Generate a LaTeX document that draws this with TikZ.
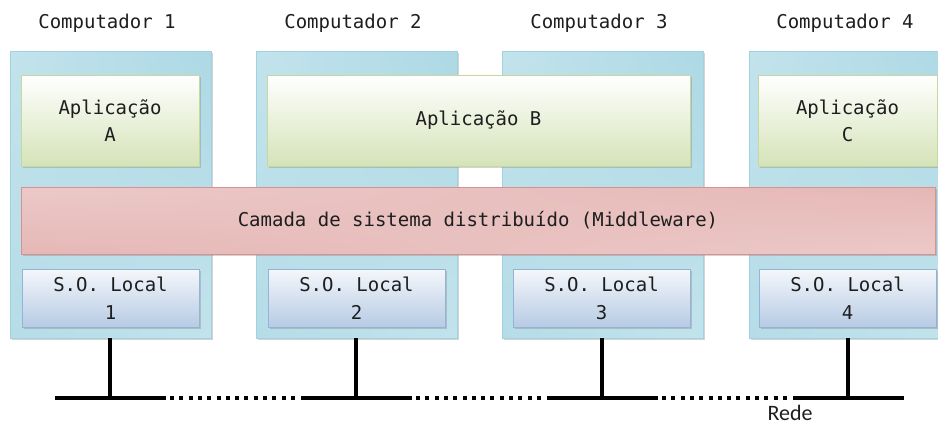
\documentclass[tikz,border=0pt]{standalone}
\usepackage{fontspec}
\newfontfamily\monofnt{DejaVu Sans Mono}
\newfontfamily\redefnt{Carlito}
\usetikzlibrary{shadows}
\definecolor{compB}{HTML}{A0D2E0}
\definecolor{appD}{HTML}{D5E3B8}
\definecolor{appB}{HTML}{C5D89E}
\definecolor{mwB}{HTML}{D8918F}
\definecolor{soL}{HTML}{F4F7FB}
\definecolor{soD}{HTML}{B7CBE4}
\definecolor{soB}{HTML}{95B3D7}
\definecolor{txt}{HTML}{1E1E1E}
% light blue: top-left light, top-right dark, bottom-left medium, bottom-right light
\pgfdeclarefunctionalshading{compshade}{\pgfpointorigin}{\pgfpoint{100bp}{100bp}}{}{
  100 div exch 100 div
  2 copy mul
  3 1 roll
  1 exch sub exch 1 exch sub mul
  0.8 mul add
  1.0 exp
  dup -0.307 mul 0.866 add exch
  dup -0.150 mul 0.941 add exch
  -0.105 mul 0.961 add
}
% pink: left light top / dark bottom, right dark top / light bottom
\pgfdeclarefunctionalshading{mwshade}{\pgfpointorigin}{\pgfpoint{100bp}{100bp}}{}{
  100 div 0.5 exch sub
  exch 100 div 2 mul 1 exch sub
  mul 0.5 add
  1.3 exp
  dup -0.094 mul 0.949 add exch
  dup -0.267 mul 0.863 add exch
  -0.271 mul 0.859 add
}
\begin{document}
\begin{tikzpicture}[x=1pt,y=-1pt,
  shad/.style={drop shadow={shadow xshift=1.6pt, shadow yshift=-1.8pt, opacity=.35, fill=gray}},
  box/.style={inner sep=0pt, outer sep=0pt, anchor=north west, line width=0.8pt, shad,
    font=\monofnt\fontsize{19}{27}\selectfont, text=txt, align=center},
  comp/.style={box, draw=compB, shade, shading=compshade,
    minimum width=201pt, minimum height=287pt},
  app/.style={box, draw=appB, top color=white, bottom color=appD, minimum height=91pt},
  mw/.style={box, draw=mwB, shade, shading=mwshade,
    minimum width=914pt, minimum height=67pt},
  so/.style={box, draw=soB, top color=soL, bottom color=soD, minimum width=177pt, minimum height=58pt,
    font=\monofnt\fontsize{19}{28}\selectfont},
  title/.style={font=\monofnt\fontsize{19}{23}\selectfont, text=txt, inner sep=0pt},
  net/.style={line width=3.8pt, black},
  dotl/.style={line width=3.8pt, black, dash pattern=on 4pt off 5.3pt}
]
\clip (0,0) rectangle (938,426);

% computers
\node[comp] (c1) at (10,51) {};
\node[comp] (c2) at (256,51) {};
\node[comp] (c3) at (502,51) {};
\node[comp] (c4) at (749,51) {};

% titles
\node[title] (t1) at (107,23) {Computador 1};
\node[title] (t2) at (353,23) {Computador 2};
\node[title] (t3) at (599,23) {Computador 3};
\node[title] (t4) at (845,23) {Computador 4};

% applications
\node[app, minimum width=178pt] (appA) at (21,75) {Aplicação\\A};
\node[app, minimum width=423pt] (appB) at (267,75) {Aplicação B};
\node[app, minimum width=179pt] (appC) at (758,75) {Aplicação\\C};

% middleware
\node[mw] (mw) at (21,187) {Camada de sistema distribuído (Middleware)};

% local OS
\node[so] (so1) at (22,269) {S.O. Local\\1};
\node[so] (so2) at (268,269) {S.O. Local\\2};
\node[so] (so3) at (513,269) {S.O. Local\\3};
\node[so] (so4) at (759,269) {S.O. Local\\4};

% network
\coordinate (n1) at (110,398);
\coordinate (n2) at (356,398);
\coordinate (n3) at (602,398);
\coordinate (n4) at (848,398);
\foreach \i in {1,...,4}{
  \draw[net] (c\i.south -| n\i) -- (n\i);
  \draw[net] ([xshift=-55pt]n\i) -- ([xshift=56pt]n\i);
}
\foreach \a/\b in {1/2,2/3,3/4}{
  \draw[dotl] ([xshift=60pt]n\a) -- ([xshift=-58pt]n\b);
}
\node[font=\redefnt\fontsize{22}{26}\selectfont, text=txt, inner sep=0pt] (rede) at (790,413) {Rede};
\end{tikzpicture}
\end{document}
